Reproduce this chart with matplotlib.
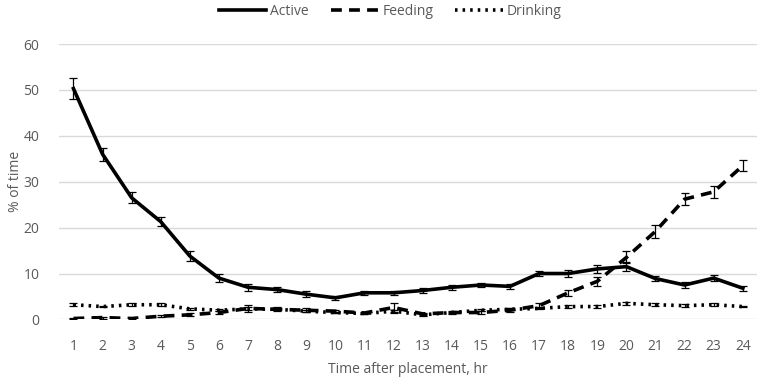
import matplotlib.pyplot as plt
import numpy as np

# hours after placement
hours = list(range(1, 25))

active = [50.3, 36.0, 26.5, 21.3, 13.8, 9.0, 7.0, 6.5, 5.5, 4.7, 5.8, 5.8,
          6.3, 7.0, 7.5, 7.2, 10.0, 10.0, 11.0, 11.5, 8.9, 7.5, 9.0, 6.8]
active_err = [2.2, 1.4, 1.2, 1.0, 1.0, 0.8, 0.7, 0.5, 0.7, 0.5, 0.5, 0.5,
              0.5, 0.5, 0.5, 0.5, 0.6, 0.7, 0.9, 1.0, 0.6, 0.6, 0.7, 0.5]

feeding = [0.2, 0.4, 0.2, 0.7, 1.0, 1.5, 2.4, 2.2, 2.0, 1.8, 1.4, 2.6,
           1.2, 1.5, 1.5, 2.0, 3.0, 5.8, 8.3, 13.5, 19.2, 26.2, 27.8, 33.5]
feeding_err = [0.2, 0.2, 0.2, 0.2, 0.3, 0.3, 0.7, 0.4, 0.4, 0.3, 0.3, 1.0,
               0.3, 0.3, 0.3, 0.4, 0.5, 0.6, 1.0, 1.3, 1.4, 1.3, 1.3, 1.2]

drinking = [3.2, 2.8, 3.2, 3.2, 2.3, 2.0, 2.3, 2.2, 1.8, 1.5, 1.3, 1.8,
            1.0, 1.5, 2.0, 2.2, 2.4, 2.8, 2.8, 3.5, 3.2, 3.0, 3.2, 2.8]
drinking_err = [0.3, 0.2, 0.3, 0.3, 0.2, 0.2, 0.3, 0.2, 0.2, 0.2, 0.2, 0.3,
                0.2, 0.2, 0.2, 0.2, 0.2, 0.3, 0.3, 0.3, 0.3, 0.3, 0.3, 0.2]

grey = '#595959'
plt.rcParams['font.family'] = ['Open Sans', 'DejaVu Sans']

fig = plt.figure(figsize=(7.65, 3.83), dpi=100)
ax = fig.add_axes([0.077, 0.166, 0.913, 0.719])

ax.errorbar(hours, active, yerr=active_err, color='black', lw=2.6,
            ls='-', capsize=3, elinewidth=0.9, capthick=0.9, label='Active')
ax.errorbar(hours, feeding, yerr=feeding_err, color='black', lw=2.6,
            ls=(0, (3, 2)), capsize=3, elinewidth=0.9, capthick=0.9, label='Feeding')
ax.errorbar(hours, drinking, yerr=drinking_err, color='black', lw=2.6,
            ls=(0, (0.7, 1.4)), capsize=3, elinewidth=0.9, capthick=0.9, label='Drinking')

ax.set_xlim(0.5, 24.5)
ax.set_ylim(0, 60)
ax.set_xticks(hours)
ax.set_yticks(range(0, 61, 10))
ax.tick_params(length=0, colors=grey, labelsize=10)
ax.tick_params(axis='x', pad=14)
ax.tick_params(axis='y', pad=14)
ax.grid(axis='y', color='#d9d9d9', lw=1)
ax.set_axisbelow(True)
for s in ax.spines.values():
    s.set_visible(False)

ax.set_xlabel('Time after placement, hr', color=grey, fontsize=10, labelpad=6)
ax.set_ylabel('% of time', color=grey, fontsize=10, labelpad=0)

handles, labels = ax.get_legend_handles_labels()
handles = [h[0] for h in handles]
fig.legend(handles, labels, loc='upper center', bbox_to_anchor=(0.51, 1.022),
           ncol=3, frameon=False, fontsize=10, labelcolor=grey,
           handlelength=3.4, handletextpad=0.3, columnspacing=1.6)

fig.savefig('out.png', dpi=100)
